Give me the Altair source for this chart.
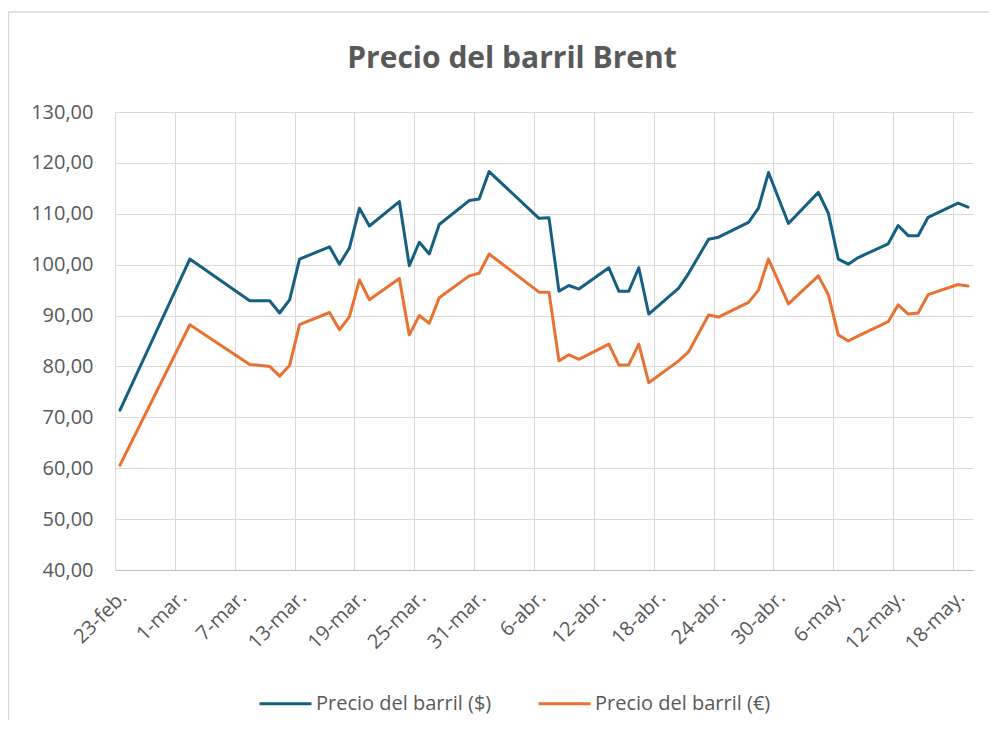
import altair as alt
import pandas as pd

# ---- data ----
fechas = ["2022-02-23", "2022-03-02", "2022-03-08", "2022-03-10", "2022-03-11",
          "2022-03-12", "2022-03-13", "2022-03-16", "2022-03-17", "2022-03-18",
          "2022-03-19", "2022-03-20", "2022-03-23", "2022-03-24", "2022-03-25",
          "2022-03-26", "2022-03-27", "2022-03-30", "2022-03-31", "2022-04-01",
          "2022-04-06", "2022-04-07", "2022-04-08", "2022-04-09", "2022-04-10",
          "2022-04-13", "2022-04-14", "2022-04-15", "2022-04-16", "2022-04-17",
          "2022-04-20", "2022-04-21", "2022-04-23", "2022-04-24", "2022-04-27",
          "2022-04-28", "2022-04-29", "2022-05-01", "2022-05-04", "2022-05-05",
          "2022-05-06", "2022-05-07", "2022-05-08", "2022-05-11", "2022-05-12",
          "2022-05-13", "2022-05-14", "2022-05-15", "2022-05-18", "2022-05-19"]

precio_usd = [71.4, 101.1, 92.9, 92.9, 90.5, 93.1, 101.1, 103.5, 100.1, 103.3,
              111.1, 107.6, 112.4, 99.8, 104.4, 102.1, 107.9, 112.6, 112.9, 118.3,
              109.1, 109.2, 94.8, 95.9, 95.2, 99.4, 94.8, 94.8, 99.4, 90.3,
              95.4, 98.3, 105.0, 105.4, 108.3, 111.1, 118.1, 108.1, 114.2, 110.1,
              101.1, 100.1, 101.4, 104.1, 107.7, 105.7, 105.7, 109.3, 112.1, 111.3]

precio_eur = [60.6, 88.2, 80.4, 80.0, 78.1, 80.2, 88.2, 90.6, 87.2, 89.8,
              97.0, 93.1, 97.3, 86.2, 90.0, 88.5, 93.5, 97.8, 98.3, 102.1,
              94.6, 94.6, 81.1, 82.3, 81.4, 84.4, 80.3, 80.3, 84.4, 76.8,
              81.1, 82.9, 90.1, 89.7, 92.6, 95.0, 101.1, 92.3, 97.8, 94.1,
              86.2, 85.0, 86.0, 88.8, 92.1, 90.3, 90.5, 94.1, 96.1, 95.8]

serie_usd = "Precio del barril ($)"
serie_eur = "Precio del barril (€)"

etiquetas_x = ["23-feb.", "1-mar.", "7-mar.", "13-mar.", "19-mar.", "25-mar.",
               "31-mar.", "6-abr.", "12-abr.", "18-abr.", "24-abr.", "30-abr.",
               "6-may.", "12-may.", "18-may."]
valores_y = [40, 50, 60, 70, 80, 90, 100, 110, 120, 130]
titulo = "Precio del barril Brent"

# ---- table ----
inicio = pd.Timestamp(fechas[0])
n = len(fechas)
dias = [(pd.Timestamp(f) - inicio).days + 0.5 for f in fechas]  # Excel: point at centre of day
df = pd.DataFrame({
    "dia": dias * 2,
    "precio": precio_usd + precio_eur,
    "serie": [serie_usd] * n + [serie_eur] * n,
    "orden": list(range(n)) * 2,
})

label_expr = "[" + ",".join(f"'{t}'" for t in etiquetas_x) + "][round(datum.value/6)]"

W, H = 858, 458
FONT = "Open Sans"
GRAY = "#595959"
GRID = "#d9d9d9"
FS = 20

lines = alt.Chart(df).mark_line(strokeWidth=3, strokeJoin="round", strokeCap="round").encode(
    x=alt.X("dia:Q",
            scale=alt.Scale(domain=[0, 86], nice=False, zero=False),
            axis=alt.Axis(values=list(range(0, 85, 6)), labelExpr=label_expr,
                          labelAngle=-45, labelAlign="right", labelBaseline="middle",
                          labelPadding=24, labelOffset=8, ticks=False, tickSize=0,
                          labelOverlap=False, labelFlush=False,
                          grid=True, gridColor=GRID, gridWidth=1,
                          domain=True, domainColor="#bfbfbf", domainWidth=1,
                          title=None, labelFontSize=FS, labelColor=GRAY, labelFont=FONT)),
    y=alt.Y("precio:Q",
            scale=alt.Scale(domain=[40, 130], nice=False, zero=False),
            axis=alt.Axis(values=valores_y,
                          labelExpr="replace(format(datum.value, '.2f'), '.', ',')",
                          ticks=False, tickSize=0, domain=False, labelPadding=22,
                          grid=True, gridColor=GRID, gridWidth=1,
                          title=None, labelFontSize=FS, labelColor=GRAY, labelFont=FONT)),
    color=alt.Color("serie:N",
                    scale=alt.Scale(domain=[serie_usd, serie_eur], range=["#156082", "#E97132"]),
                    legend=alt.Legend(orient="none", legendX=143, legendY=564,
                                      direction="horizontal", title=None,
                                      symbolType="stroke", symbolSize=2704,
                                      symbolStrokeWidth=3, labelFontSize=FS,
                                      labelColor=GRAY, labelFont=FONT, labelLimit=400,
                                      columnPadding=40, labelOffset=3, padding=0)),
    order="orden:Q",
)

frame_df = pd.DataFrame({"a": [0]})
border_left = alt.Chart(frame_df).mark_rule(color=GRID, strokeWidth=1.5).encode(
    x=alt.value(-106.5), y=alt.value(-100), y2=alt.value(H + 150))
border_top = alt.Chart(frame_df).mark_rule(color=GRID, strokeWidth=1.5).encode(
    x=alt.value(-106.5), x2=alt.value(W + 16), y=alt.value(-100))

chart = alt.layer(border_left, border_top, lines).properties(
    width=W, height=H,
    title=alt.TitleParams(titulo, fontSize=30, font=FONT, fontWeight="bold", color=GRAY,
                          anchor="middle", frame="group", baseline="alphabetic",
                          dx=-32, dy=87, offset=0),
    autosize=alt.AutoSizeParams(type="none"),
    padding={"left": 107, "top": 104, "right": 16, "bottom": 150},
).configure_view(stroke=None)

chart.save("out.html", embed_options={"renderer": "svg", "actions": False})
